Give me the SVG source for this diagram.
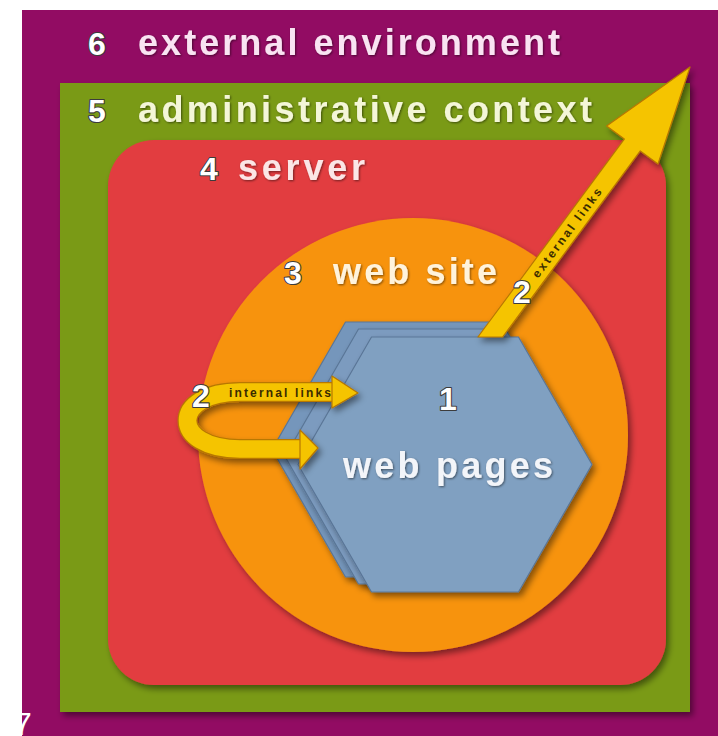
<svg xmlns="http://www.w3.org/2000/svg" width="718" height="736" viewBox="0 0 718 736">
<defs>
<filter id="sh" x="-10%" y="-10%" width="125%" height="125%">
<feDropShadow dx="3" dy="4" stdDeviation="3" flood-color="#000" flood-opacity="0.45"/>
</filter>
<filter id="tsh" x="-10%" y="-20%" width="130%" height="150%">
<feDropShadow dx="1" dy="1" stdDeviation="0.8" flood-color="#000" flood-opacity="0.5"/>
</filter>
<style>
.lbl{font-family:"Liberation Sans",Arial,sans-serif;font-weight:bold;font-size:36px;}
.num{font-family:"Liberation Sans",Arial,sans-serif;font-weight:bold;font-size:32px;fill:#ffffff;stroke:#3c3c3c;stroke-width:2.2px;paint-order:stroke;stroke-linejoin:round;}
.hex{stroke:#5a7697;stroke-width:1.2;}
.arr{fill:#f5c400;stroke:#b87800;stroke-width:1.2;stroke-linejoin:round;}
.small{font-family:"Liberation Sans",Arial,sans-serif;font-weight:bold;font-size:12px;fill:#3a2c00;}
</style>
<polygon id="hexshape" points="371.5,337 518.5,337 592,464.5 518.5,592 371.5,592 298,464.5"/>
</defs>

<rect x="0" y="0" width="718" height="736" fill="#ffffff"/>

<g id="external-environment">
<rect x="22" y="10" width="696" height="726" fill="#920c63"/>
<text class="num" x="88" y="55">6</text>
<text class="lbl" x="138" y="55" fill="#f9e3f2" textLength="422" lengthAdjust="spacing" filter="url(#tsh)">external environment</text>
</g>

<g id="administrative-context">
<rect x="60" y="83" width="630" height="629" fill="#7a9a12" filter="url(#sh)"/>
<text class="num" x="88" y="122">5</text>
<text class="lbl" x="138" y="122" fill="#f4f6d8" textLength="454" lengthAdjust="spacing" filter="url(#tsh)">administrative context</text>
</g>

<g id="server">
<rect x="108" y="140" width="558" height="545" rx="46" ry="46" fill="#e23c3f" filter="url(#sh)"/>
<text class="num" x="200" y="180">4</text>
<text class="lbl" x="238" y="180" fill="#fbe6e6" textLength="127" lengthAdjust="spacing" filter="url(#tsh)">server</text>
</g>

<g id="web-site">
<ellipse cx="413" cy="435" rx="215" ry="217" fill="#f7930f" filter="url(#sh)"/>
<text class="num" x="284" y="284">3</text>
<text class="lbl" x="333" y="284" fill="#fff3dc" textLength="164" lengthAdjust="spacing" filter="url(#tsh)">web site</text>
</g>

<g id="web-pages">
<use href="#hexshape" class="hex" fill="#7596bb" transform="translate(-26,-15)" filter="url(#sh)"/>
<use href="#hexshape" class="hex" fill="#7b9bbf" transform="translate(-13,-8)" filter="url(#sh)"/>
<use href="#hexshape" class="hex" fill="#80a0c1" filter="url(#sh)"/>
<text class="num" x="439" y="410" font-size="30">1</text>
<text class="lbl" x="343" y="478" fill="#f3f5f9" textLength="210" lengthAdjust="spacing" filter="url(#tsh)">web pages</text>
</g>

<g id="connectors">
<g id="external-links" filter="url(#sh)">
<polygon class="arr" points="477.9,337 624.3,139.1 606.6,126 690,67 658,164 640.3,150.9 502.6,337"/>
</g>
<text class="small" transform="translate(567,233) rotate(-53.5)" x="-54" y="4" textLength="108" lengthAdjust="spacing">external links</text>
<text class="num" x="513" y="303" font-size="28">2</text>

<g id="internal-links" filter="url(#sh)">
<path d="M 336 392 L 240 392 C 170 392 170 449 240 449 L 304 449" fill="none" stroke="#b87800" stroke-width="20"/>
<path d="M 336 392 L 240 392 C 170 392 170 449 240 449 L 304 449" fill="none" stroke="#f5c400" stroke-width="17.6"/>
<polygon class="arr" points="332,376 358,393 332,408"/>
<polygon class="arr" points="300,430 318,448 300,469"/>
</g>
<text class="num" x="192" y="407" font-size="28">2</text>
<text class="small" x="229" y="397" textLength="102" lengthAdjust="spacing">internal links</text>
</g>

<text x="14" y="735" font-family="Liberation Sans, Arial, sans-serif" font-size="32" fill="#ffffff">7</text>
</svg>
